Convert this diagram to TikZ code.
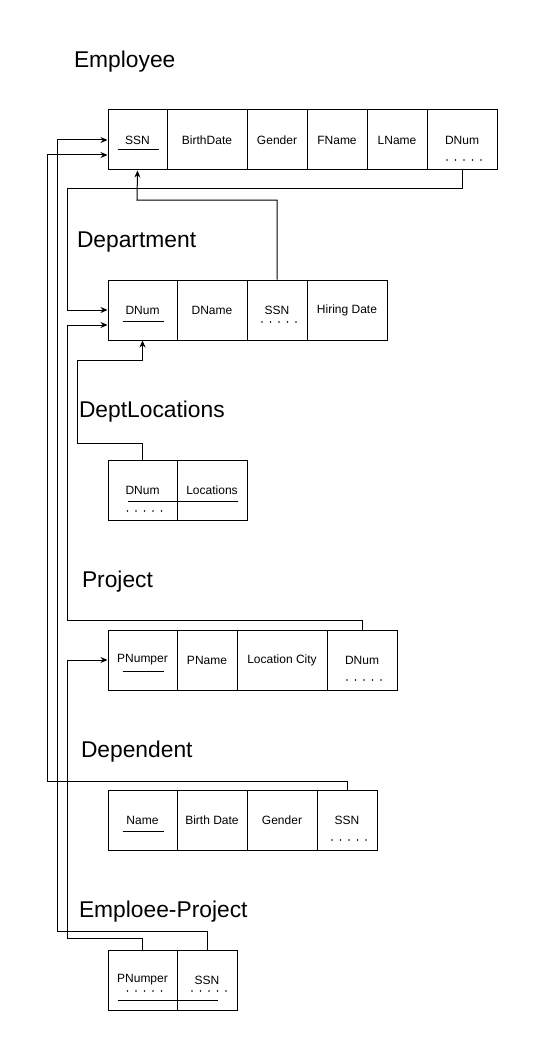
\documentclass[tikz,border=0pt]{standalone}
\usepackage{fontspec}
\setmainfont{Liberation Sans}
\usetikzlibrary{arrows.meta}

\begin{document}
\begin{tikzpicture}[x=1pt,y=-1pt,line width=1pt,
    cell/.style={draw=black,rectangle,inner sep=0pt,minimum height=60pt,font=\fontsize{12}{14}\selectfont},
    title/.style={anchor=base west,inner sep=0pt,font=\fontsize{22.8}{26}\selectfont},
    link/.style={-{Stealth[length=7pt,width=6pt]}}]
            \useasboundingbox (0,0) rectangle (538,1051);

            % Employee
            \node[title] (t1) at (73.5,68) {Employee};
            \node[cell,minimum width=59pt] (emp-ssn) at (137.5,140) {SSN};
            \node[cell,minimum width=80pt] (emp-bd) at (207,140) {BirthDate};
            \node[cell,minimum width=60pt] (emp-gen) at (277,140) {Gender};
            \node[cell,minimum width=60pt] (emp-fn) at (337,140) {FName};
            \node[cell,minimum width=60pt] (emp-ln) at (397,140) {LName};
            \node[cell,minimum width=70pt] (emp-dnum) at (462,140) {DNum};

            % Department
            \node[title] (t2) at (76.5,247.5) {Department};
            \node[cell,minimum width=69pt] (dep-dnum) at (142.5,310) {DNum};
            \node[cell,minimum width=70pt] (dep-dname) at (212,310) {DName};
            \node[cell,minimum width=60pt] (dep-ssn) at (277,310) {SSN};
            \node[cell,minimum width=80pt] (dep-hd) at (347,310) {Hiring Date};

            % DeptLocations
            \node[title] (t3) at (78.5,417.5) {DeptLocations};
            \node[cell,minimum width=69pt] (loc-dnum) at (142.5,490) {DNum};
            \node[cell,minimum width=70pt] (loc-loc) at (212,490) {Locations};

            % Project
            \node[title] (t4) at (81.5,587.5) {Project};
            \node[cell,minimum width=69pt] (pro-pnum) at (142.5,660) {PNumper};
            \node[cell,minimum width=60pt] (pro-pname) at (207,660) {PName};
            \node[cell,minimum width=90pt] (pro-city) at (282,660) {Location City};
            \node[cell,minimum width=70pt] (pro-dnum) at (362,660) {DNum};

            % Dependent
            \node[title] (t5) at (80.5,757.5) {Dependent};
            \node[cell,minimum width=69pt] (dpn-name) at (142.5,820) {Name};
            \node[cell,minimum width=70pt] (dpn-bd) at (212,820) {Birth Date};
            \node[cell,minimum width=70pt] (dpn-gen) at (282,820) {Gender};
            \node[cell,minimum width=60pt] (dpn-ssn) at (347,820) {SSN};

            % Emploee-Project
            \node[title] (t6) at (78.5,917.5) {Emploee-Project};
            \node[cell,minimum width=69pt] (ep-pnum) at (142.5,980) {PNumper};
            \node[cell,minimum width=60pt] (ep-ssn) at (207,980) {SSN};

            % primary keys
            \draw ([shift={(-20,10)}]emp-ssn.center) -- ++(41,0);
            \draw ([shift={(-20,11)}]dep-dnum.center) -- ++(41,0);
            \draw ([shift={(-15,11)}]loc-dnum.center) -- ++(110,0);
            \draw ([shift={(-20,11)}]pro-pnum.center) -- ++(41,0);
            \draw ([shift={(-20,11)}]dpn-name.center) -- ++(41,0);
            \draw ([shift={(-25,20)}]ep-pnum.center) -- ++(100,0);

            % foreign keys
            \foreach \n/\dy in {emp-dnum/20,dep-ssn/12,loc-dnum/21,pro-dnum/20,dpn-ssn/20,ep-pnum/11,ep-ssn/11}
                \foreach \i in {0,...,4}
                    \fill ([shift={(-15+\i*8.5,\dy)}]\n.center) circle (0.95);

            % bends
            \coordinate (b1) at (67,188);
            \coordinate (b2) at (137,200);
            \coordinate (b3a) at (77,443);
            \coordinate (b3b) at (77,360);
            \coordinate (b4) at (67,620);
            \coordinate (b5) at (47,781);
            \coordinate (b6) at (57,931);
            \coordinate (b7) at (67,938);

            \draw[link] (emp-dnum.south) |- (b1) |- (dep-dnum.west);
            \draw[link] (dep-ssn.north) |- (b2) -- (emp-ssn.south);
            \draw[link] (loc-dnum.north) |- (b3a) -- (b3b) -| (dep-dnum.south);
            \draw[link] (pro-dnum.north) |- (b4) |- ([yshift=-15pt]dep-dnum.west);
            \draw[link] (dpn-ssn.north) |- (b5) |- ([yshift=-15pt]emp-ssn.west);
            \draw[link] (ep-ssn.north) |- (b6) |- (emp-ssn.west);
            \draw[link] (ep-pnum.north) |- (b7) |- (pro-pnum.west);
        \end{tikzpicture}
\end{document}
